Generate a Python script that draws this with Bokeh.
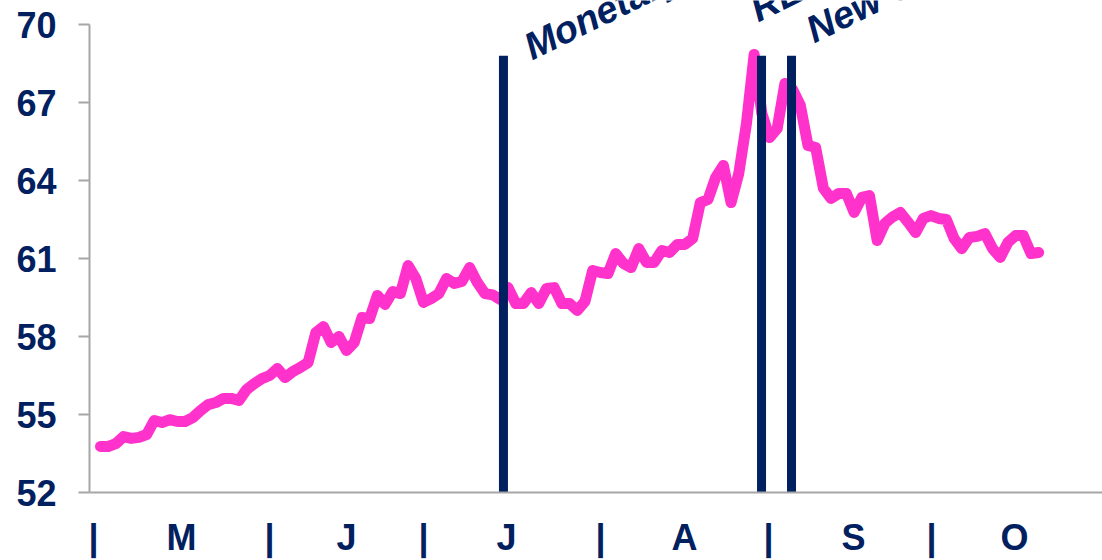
import math
from bokeh.plotting import figure
from bokeh.models import Range1d, FixedTicker, Label, ColumnDataSource
from bokeh.embed import file_html
from bokeh.resources import INLINE

# USD/INR daily fixing, May - Oct (business days)
rate = [53.77, 53.77, 53.88, 54.15, 54.08, 54.12, 54.23, 54.77, 54.69, 54.80,
        54.73, 54.73, 54.88, 55.15, 55.38, 55.46, 55.62, 55.62, 55.54, 55.96,
        56.19, 56.38, 56.50, 56.77, 56.42, 56.65, 56.81, 57.00, 58.15, 58.38,
        57.77, 58.00, 57.46, 57.77, 58.73, 58.69, 59.58, 59.23, 59.73, 59.65,
        60.73, 60.23, 59.31, 59.46, 59.65, 60.23, 60.04, 60.12, 60.65, 60.08,
        59.65, 59.60, 59.42, 59.88, 59.27, 59.27, 59.69, 59.27, 59.85, 59.88,
        59.27, 59.27, 59.00, 59.35, 60.54, 60.46, 60.42, 61.19, 60.81, 60.65,
        61.38, 60.85, 60.85, 61.31, 61.23, 61.54, 61.54, 61.77, 63.15, 63.27,
        64.12, 64.58, 63.15, 64.27, 66.19, 68.85, 66.58, 65.65, 66.00, 67.73,
        67.50, 66.90, 65.35, 65.27, 63.70, 63.31, 63.50, 63.50, 62.77, 63.35,
        63.42, 61.69, 62.35, 62.60, 62.77, 62.40, 62.00, 62.54, 62.65, 62.54,
        62.50, 61.77, 61.38, 61.81, 61.85, 61.96, 61.38, 61.04, 61.62, 61.88,
        61.88, 61.19, 61.23]
day = list(range(len(rate)))

# events (business-day index) and their labels
event_day = [52.4, 85.96, 89.86]
event_text = ["Monetary tightening", "RE measures", "New Governor"]
event_top = 68.8
event_dx = [23, -9, 17]
event_dy = [7, 45, 24]

# month axis: separators and month letters (business-day index)
month_ticks = [-0.91, 10.53, 21.98, 31.99, 42.0, 52.8, 65.02, 75.94, 86.87, 97.92, 108.06, 118.86]
month_labels = ["|", "M", "|", "J", "|", "J", "|", "A", "|", "S", "|", "O"]

y_ticks = [52, 55, 58, 61, 64, 67, 70]

NAVY = "#002060"
PINK = "#FF33CC"
GREY = "#a6a6a6"

p = figure(width=1102, height=560, output_backend="svg", toolbar_location=None,
           x_range=Range1d(-1.43, 130.3), y_range=Range1d(52, 70 + 24 / 26),
           min_border_left=89, min_border_right=0, min_border_top=0,
           min_border_bottom=68)
p.outline_line_color = None
p.grid.visible = False
p.background_fill_color = "white"
p.border_fill_color = "white"

src = ColumnDataSource(dict(day=day, rate=rate))
p.line("day", "rate", source=src, line_color=PINK, line_width=11,
       line_cap="round", line_join="round")

p.segment(x0=event_day, y0=[52] * 3, x1=event_day, y1=[event_top] * 3,
          line_color=NAVY, line_width=9)

for ex, txt, dx, dy in zip(event_day, event_text, event_dx, event_dy):
    p.add_layout(Label(x=ex, y=event_top, text=txt, angle=math.radians(26),
                       x_offset=dx, y_offset=dy,
                       text_font="Liberation Sans", text_font_style="bold italic",
                       text_font_size="38px", text_color=NAVY,
                       text_baseline="alphabetic", text_align="left"))

# y axis
ya = p.yaxis[0]
ya.ticker = FixedTicker(ticks=y_ticks)
ya.bounds = (52, 70)
ya.axis_line_color = GREY
ya.axis_line_width = 2
ya.major_tick_line_color = GREY
ya.major_tick_line_width = 2
ya.major_tick_out = 11
ya.major_tick_in = 0
ya.minor_tick_line_color = None
ya.major_label_standoff = 22
ya.major_label_text_font = "Liberation Sans"
ya.major_label_text_font_style = "bold"
ya.major_label_text_font_size = "36px"
ya.major_label_text_color = NAVY

# x axis
xa = p.xaxis[0]
xa.ticker = FixedTicker(ticks=month_ticks)
xa.major_label_overrides = {t: l for t, l in zip(month_ticks, month_labels)}
xa.axis_line_color = GREY
xa.axis_line_width = 2
xa.major_tick_line_color = None
xa.major_tick_out = 0
xa.major_tick_in = 0
xa.minor_tick_line_color = None
xa.major_label_standoff = 24
xa.major_label_text_font = "Liberation Sans"
xa.major_label_text_font_style = "bold"
xa.major_label_text_font_size = "36px"
xa.major_label_text_color = NAVY

open("out.html", "w").write(file_html(p, INLINE))
